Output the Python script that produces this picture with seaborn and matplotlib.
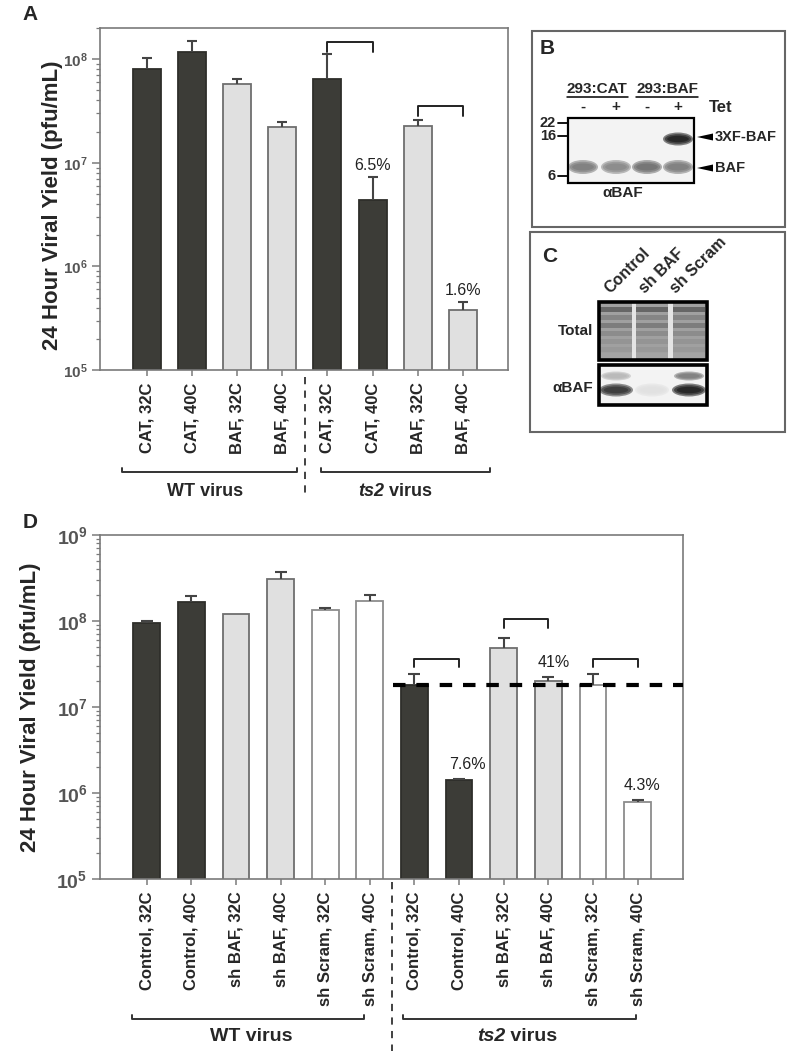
import numpy as np
import pandas as pd
import seaborn as sns
import matplotlib.pyplot as plt
from matplotlib.patches import Rectangle, Ellipse, Polygon
from matplotlib.ticker import LogLocator, FuncFormatter, NullFormatter

# ---------------- data ----------------
# panel A: 293 cells expressing CAT or BAF, WT vs ts2 virus
a_labels = ["CAT, 32C", "CAT, 40C", "BAF, 32C", "BAF, 40C",
            "CAT, 32C", "CAT, 40C", "BAF, 32C", "BAF, 40C"]
a_virus = ["WT"] * 4 + ["ts2"] * 4
a_yield = [8.0e7, 1.17e8, 5.7e7, 2.2e7, 6.4e7, 4.35e6, 2.25e7, 3.8e5]
a_upper = [1.02e8, 1.5e8, 6.5e7, 2.5e7, 1.11e8, 7.3e6, 2.6e7, 4.5e5]
a_fill = ["dark", "dark", "light", "light", "dark", "dark", "light", "light"]
a_pct_idx = [5, 7]
a_pct_txt = ["6.5%", "1.6%"]
a_pairs = [(4, 5), (6, 7)]
a_pair_top = [1.48e8, 3.5e7]

# panel D: shRNA knockdown cells
d_labels = ["Control, 32C", "Control, 40C", "sh BAF, 32C", "sh BAF, 40C",
            "sh Scram, 32C", "sh Scram, 40C"] * 2
d_virus = ["WT"] * 6 + ["ts2"] * 6
d_yield = [9.5e7, 1.66e8, 1.2e8, 3.1e8, 1.35e8, 1.7e8,
           1.8e7, 1.4e6, 4.85e7, 2.0e7, 1.8e7, 7.9e5]
d_upper = [1.0e8, 1.95e8, None, 3.7e8, 1.4e8, 2.0e8,
           2.4e7, 1.45e6, 6.3e7, 2.25e7, 2.4e7, 8.2e5]
d_fill = ["dark", "dark", "light", "light", "white", "white"] * 2
d_pct_idx = [7, 9, 11]
d_pct_txt = ["7.6%", "41%", "4.3%"]
d_pct_dx = [6, 4, 3]
d_pairs = [(6, 7), (8, 9), (10, 11)]
d_pair_top = [3.6e7, 1.05e8, 3.6e7]

# blot B: band darkness per lane
b_lane_x = [583, 616, 647, 678]
b_signs = ["-", "+", "-", "+"]
b_baf = [0.55, 0.5, 0.6, 0.55]
b_flag = [0.0, 0.0, 0.0, 0.95]
b_marker_kda = ["22", "16", "6"]
b_marker_y = [123, 136, 176]

# blot C
c_lanes = ["Control", "sh BAF", "sh Scram"]
c_lane_x = [616, 652, 689]
c_baf = [0.85, 0.12, 0.95]
c_baf_upper = [0.3, 0.0, 0.55]

# ---------------- style ----------------
sns.set_style("ticks")
plt.rcParams["font.family"] = ["Liberation Sans", "DejaVu Sans"]
plt.rcParams["mathtext.fontset"] = "custom"
plt.rcParams["mathtext.rm"] = "Liberation Sans"
plt.rcParams["mathtext.bf"] = "Liberation Sans:bold"

palette = {"dark": "#3c3c37", "light": "#e0e0e0", "white": "#ffffff"}
edges = {"dark": "#2e2e2a", "light": "#6e6e6e", "white": "#8c8c8c"}
AXIS = "#7a7a7a"
TICKTXT = "#555555"

W, H = 800, 1055
fig = plt.figure(figsize=(W / 100, H / 100), dpi=100)


def frac(left, top, right, bottom):
    return [left / W, 1 - bottom / H, (right - left) / W, (bottom - top) / H]


def bar_panel(rect, labels, virus, yields, uppers, fills, ylim, xlim,
              width, ticksize, capsize):
    ax = fig.add_axes(rect)
    keys = [f"{v} {l}" for v, l in zip(virus, labels)]
    df = pd.DataFrame({"key": keys, "yield": yields})
    sns.barplot(data=df, x="key", y="yield", hue="key",
                palette=[palette[f] for f in fills], legend=False,
                width=width, errorbar=None, saturation=1, ax=ax, zorder=2)
    for patch, f in zip(ax.patches, fills):
        patch.set_edgecolor(edges[f])
        patch.set_linewidth(1.3)
    x = np.arange(len(yields))
    for xi, y, u in zip(x, yields, uppers):
        if u is None:
            continue
        ax.vlines(xi, y, u, color="#444444", lw=1.5, zorder=3)
        ax.plot([xi], [u], marker="_", ms=capsize, mew=1.5,
                color="#444444", zorder=3)
    ax.set_yscale("log")
    ax.set_ylim(*ylim)
    ax.set_xlim(*xlim)
    ax.yaxis.set_major_locator(LogLocator(base=10, numticks=12))
    ax.yaxis.set_minor_locator(LogLocator(base=10, subs=np.arange(2, 10),
                                          numticks=100))
    ax.yaxis.set_major_formatter(FuncFormatter(
        lambda v, _: r"$\mathbf{10^{%d}}$" % round(np.log10(v))))
    ax.yaxis.set_minor_formatter(NullFormatter())
    ax.tick_params(axis="y", which="major", length=6, width=1.1,
                   color=AXIS, labelcolor=TICKTXT, labelsize=ticksize, pad=3)
    ax.tick_params(axis="y", which="minor", length=3, width=0.9, color=AXIS)
    ax.set_xticks(x)
    ax.set_xticklabels(labels, rotation=90, fontweight="bold", fontsize=12)
    ax.tick_params(axis="x", length=4, width=1.1, color=AXIS, pad=5)
    for s in ax.spines.values():
        s.set_color(AXIS)
        s.set_linewidth(1.2)
    ax.set_xlabel("")
    ax.set_ylabel("")
    return ax


def brackets(ax, pairs, tops, drop=1.25):
    for (i, j), top in zip(pairs, tops):
        ax.plot([i, i, j, j], [top / drop, top, top, top / drop],
                color="#222222", lw=1.4, zorder=4)


def percents(ax, idx, txt, uppers, dy, dxs=None):
    for k, (i, t) in enumerate(zip(idx, txt)):
        dx = 0 if dxs is None else dxs[k]
        ax.annotate(t, (i, uppers[i]), xytext=(dx, dy),
                    textcoords="offset points", ha="center", va="bottom",
                    fontsize=11.5, color="#222222")


def groups(ax, spans, ybar, tick, divider, ydiv, names, name_y, fs):
    t = ax.get_xaxis_transform()
    for x0, x1 in spans:
        ax.plot([x0, x0, x1, x1], [ybar + tick, ybar, ybar, ybar + tick],
                color="#333333", lw=1.4, transform=t, clip_on=False)
    ax.plot([divider, divider], ydiv, color="#333333", lw=1.3,
            dashes=(4, 3.5), transform=t, clip_on=False)
    (wx, tx) = names
    ax.text(wx, name_y, "WT virus", transform=t, ha="center", va="center",
            fontsize=fs, fontweight="bold")
    ax.text(tx, name_y, "ts2", transform=t, ha="right", va="center",
            fontsize=fs, fontweight="bold", fontstyle="italic")
    ax.text(tx, name_y, " virus", transform=t, ha="left", va="center",
            fontsize=fs, fontweight="bold")


# ---------------- panel A ----------------
axA = bar_panel(frac(100, 28, 508, 370), a_labels, a_virus, a_yield, a_upper,
                a_fill, (1e5, 2e8), (-1.04, 8.0), 0.62, 11, 6.5)
brackets(axA, a_pairs, a_pair_top)
percents(axA, a_pct_idx, a_pct_txt, a_upper, 3)
groups(axA, [(-0.55, 3.33), (3.86, 7.6)], -0.298, 0.012, 3.5,
       (-0.02, -0.37), (1.29, 5.25), -0.354, 13)

# ---------------- panel D ----------------
axD = bar_panel(frac(100, 535, 683, 879), d_labels, d_virus, d_yield, d_upper,
                d_fill, (1e5, 1e9), (-1.05, 12.02), 0.6, 14, 9)
brackets(axD, d_pairs, d_pair_top)
percents(axD, d_pct_idx, d_pct_txt, d_upper, 5, d_pct_dx)
axD.plot([5.52, 12.02], [d_yield[6]] * 2, color="black", lw=3,
         dashes=(3, 2.6), zorder=5, clip_on=False)
groups(axD, [(-0.34, 4.87), (5.74, 10.96)], -0.407, 0.012, 5.5,
       (-0.01, -0.5), (2.35, 8.03), -0.459, 14)

# ---------------- overlay in pixel coordinates ----------------
ov = fig.add_axes([0, 0, 1, 1])
ov.set_xlim(0, W)
ov.set_ylim(H, 0)
ov.axis("off")

for lbl, (px, py) in zip("ABCD", [(30, 15), (547, 48), (550, 256), (30, 522)]):
    ov.text(px, py, lbl, ha="center", va="center", fontsize=15,
            fontweight="bold")
ylab = "24 Hour Viral Yield (pfu/mL)"
ov.text(53, 205, ylab, rotation=90, ha="center", va="center",
        fontsize=16, fontweight="bold")
ov.text(31, 707, ylab, rotation=90, ha="center", va="center",
        fontsize=16, fontweight="bold")


def band(x, y, w, h, tone):
    if tone <= 0:
        return
    g = str(round(1 - tone, 3))
    for sw, sh in [(1.0, 1.0), (0.88, 0.75), (0.72, 0.5)]:
        ov.add_patch(Ellipse((x, y), w * sw, h * sh, facecolor=g,
                             alpha=0.5, lw=0))


# panel B
ov.add_patch(Rectangle((532, 31), 253, 196, fill=False, ec="#666666", lw=1.5))
ov.add_patch(Rectangle((568, 118), 126, 65, fc="#f3f3f3", ec="none"))
for x, t1, t2 in zip(b_lane_x, b_baf, b_flag):
    band(x, 167, 30, 14, t1)
    band(x, 139, 30, 13, t2)
ov.add_patch(Rectangle((568, 118), 126, 65, fill=False, ec="black", lw=1.6))
for x, s in zip(b_lane_x, b_signs):
    ov.text(x, 107, s, ha="center", va="center", fontsize=11,
            fontweight="bold")
ov.text(709, 107, "Tet", ha="left", va="center", fontsize=12,
        fontweight="bold")
for name, cx, (u0, u1) in [("293:CAT", 597, (567, 628)),
                           ("293:BAF", 667, (636, 698))]:
    ov.text(cx, 89, name, ha="center", va="center", fontsize=11,
            fontweight="bold")
    ov.plot([u0, u1], [97, 97], color="black", lw=1.1)
for k, y in zip(b_marker_kda, b_marker_y):
    ov.plot([558, 568], [y, y], color="black", lw=1.3)
    ov.text(556, y, k, ha="right", va="center", fontsize=10.5,
            fontweight="bold")
for name, y in [("3XF-BAF", 137), ("BAF", 168)]:
    ov.add_patch(Polygon([(697, y), (713, y - 3.5), (713, y + 3.5)],
                         closed=True, fc="black", ec="none"))
    ov.text(715, y, name, ha="left", va="center", fontsize=10.5,
            fontweight="bold")
ov.text(623, 193, "αBAF", ha="center", va="center", fontsize=11,
        fontweight="bold")

# panel C
ov.add_patch(Rectangle((530, 232), 255, 200, fill=False, ec="#666666", lw=1.5))
ov.add_patch(Rectangle((599, 302), 108, 58, fc="#e4e4e4", ec="none"))
stripe_y = [309, 317, 325, 333, 341, 349, 355]
stripe_t = [0.75, 0.55, 0.6, 0.5, 0.45, 0.42, 0.35]
for x in c_lane_x:
    ov.add_patch(Rectangle((x - 16, 303), 32, 56, fc="#a0a0a0", ec="none"))
    for y, t in zip(stripe_y, stripe_t):
        ov.add_patch(Rectangle((x - 16, y - 2.5), 32, 5,
                               fc=str(round(1 - t, 3)), alpha=0.6, ec="none"))
ov.add_patch(Rectangle((599, 302), 108, 58, fill=False, ec="black", lw=2.6))
ov.add_patch(Rectangle((599, 365), 108, 40, fc="#f3f3f3", ec="none"))
for x, t1, t0 in zip(c_lane_x, c_baf, c_baf_upper):
    band(x, 390, 34, 13, t1)
    band(x, 376, 30, 9, t0)
ov.add_patch(Rectangle((599, 365), 108, 40, fill=False, ec="black", lw=2.6))
for name, x in zip(c_lanes, [612, 647, 678]):
    ov.text(x, 296, name, rotation=45, rotation_mode="anchor", ha="left",
            va="bottom", fontsize=11.5, fontweight="bold")
ov.text(593, 331, "Total", ha="right", va="center", fontsize=11,
        fontweight="bold")
ov.text(593, 388, "αBAF", ha="right", va="center", fontsize=11,
        fontweight="bold")

plt.savefig("out.png", dpi=100)
